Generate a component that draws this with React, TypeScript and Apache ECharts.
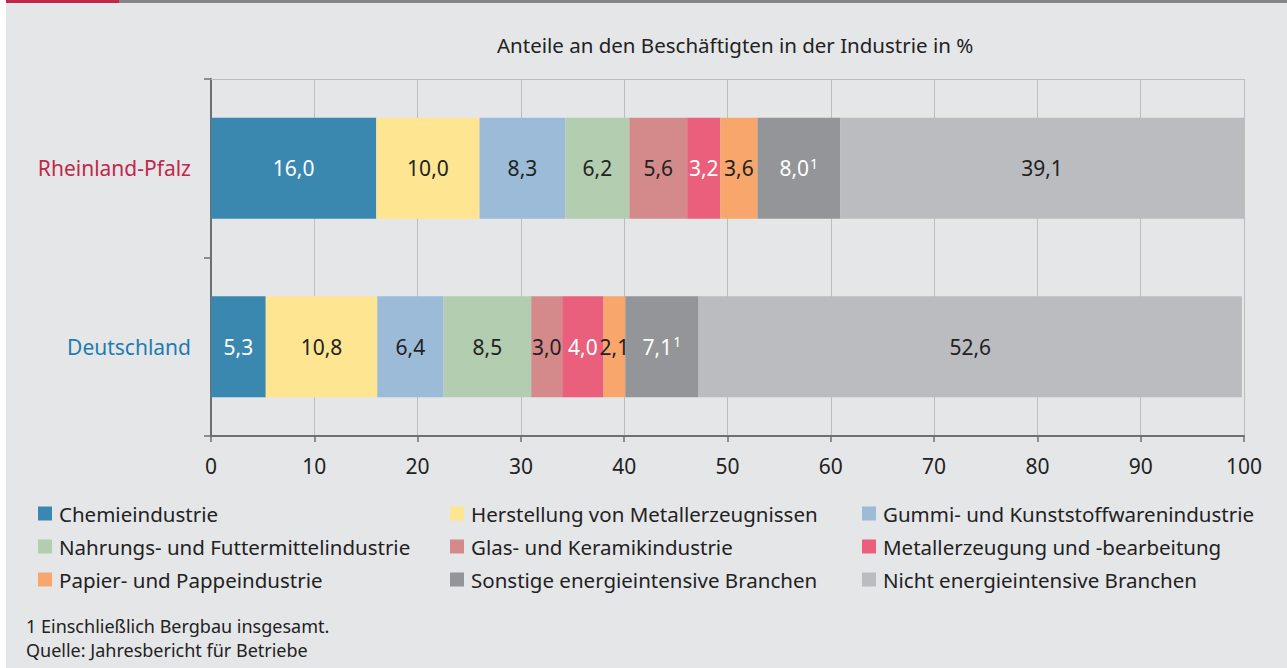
import React, { useEffect, useRef } from "react";
import * as echarts from "echarts";

const categories = ["Rheinland-Pfalz", "Deutschland"];
const seriesNames = [
  "Chemieindustrie",
  "Herstellung von Metallerzeugnissen",
  "Gummi- und Kunststoffwarenindustrie",
  "Nahrungs- und Futtermittelindustrie",
  "Glas- und Keramikindustrie",
  "Metallerzeugung und -bearbeitung",
  "Papier- und Pappeindustrie",
  "Sonstige energieintensive Branchen",
  "Nicht energieintensive Branchen",
];
const rlpValues = [16.0, 10.0, 8.3, 6.2, 5.6, 3.2, 3.6, 8.0, 39.1];
const deValues = [5.3, 10.8, 6.4, 8.5, 3.0, 4.0, 2.1, 7.1, 52.6];
const colors = ["#3a88b0", "#fee592", "#9bbbd8", "#b3cdb0", "#d48a8b", "#ea5f7b", "#f8a66c", "#939598", "#bbbcc0"];
const labelColors = ["#ffffff", "#222", "#222", "#222", "#222", "#ffffff", "#222", "#ffffff", "#222"];
const footnoteIndex = 7;
const xTicks = [0, 10, 20, 30, 40, 50, 60, 70, 80, 90, 100];

const FONT = "'Noto Sans', 'Open Sans', sans-serif";

export default function App() {
  const ref = useRef<HTMLDivElement>(null);
  useEffect(() => {
    document.body.style.margin = "0";
    const chart = echarts.init(ref.current!, undefined, { renderer: "svg" });
    const series = seriesNames.map((name, i) => ({
      name,
      type: "bar",
      stack: "total",
      barWidth: 101,
      itemStyle: { color: colors[i] },
      label: {
        show: true,
        position: "inside",
        fontFamily: FONT,
        fontSize: 21,
        color: labelColors[i],
        formatter: (p: any) => {
          const s = p.value.toFixed(1).replace(".", ",");
          return i === footnoteIndex ? s + "{sup|1}" : s;
        },
        rich: {
          sup: { fontSize: 14, verticalAlign: "top", color: labelColors[i], fontFamily: FONT, padding: [0, 0, 10, 1] },
        },
      },
      data: [rlpValues[i], deValues[i]],
    }));
    const legendCols = [0, 1, 2].map((c) => ({
      orient: "vertical",
      left: [38, 450, 862][c],
      top: 503,
      padding: 0,
      icon: "rect",
      itemWidth: 14,
      itemHeight: 14,
      itemGap: 12,
      textStyle: { fontFamily: FONT, fontSize: 20.5, color: "#222", padding: [0, 0, 0, 2] },
      data: [seriesNames[c], seriesNames[c + 3], seriesNames[c + 6]],
    }));
    chart.setOption({
      animation: false,
      backgroundColor: "#ffffff",
      title: {
        text: "Anteile an den Beschäftigten in der Industrie in %",
        left: 492,
        top: 29,
        textStyle: { fontFamily: FONT, fontSize: 20.5, fontWeight: "normal", color: "#222" },
      },
      legend: legendCols,
      grid: { left: 211, right: 43, top: 79, bottom: 232 },
      xAxis: [
        {
          type: "value",
          min: 0,
          max: 100,
          interval: 10,
          axisLine: { show: true, lineStyle: { color: "#6f6f6f", width: 2 } },
          axisTick: { show: true, length: 6, lineStyle: { color: "#6f6f6f", width: 1.5 } },
          axisLabel: {
            fontFamily: FONT,
            fontSize: 21,
            color: "#222",
            margin: 19,
            formatter: (v: number) => (xTicks.includes(v) ? String(v) : ""),
          },
          splitLine: { show: true, lineStyle: { color: "#bdbdbd", width: 1 } },
        },
        {
          type: "value",
          position: "top",
          min: 0,
          max: 100,
          axisLine: { show: true, lineStyle: { color: "#bdbdbd", width: 1 } },
          axisTick: { show: false },
          axisLabel: { show: false },
          splitLine: { show: false },
        },
      ],
      yAxis: {
        type: "category",
        inverse: true,
        data: categories,
        axisLine: { show: true, lineStyle: { color: "#6f6f6f", width: 2 } },
        axisTick: { show: true, length: 7, lineStyle: { color: "#6f6f6f", width: 1.5 } },
        axisLabel: {
          fontFamily: FONT,
          fontSize: 21,
          margin: 20,
          color: (v: string) => (v === "Rheinland-Pfalz" ? "#c0284a" : "#1f7bb0"),
        },
      },
      series,
      graphic: [
        { type: "rect", z: -10, shape: { x: 6, y: 0, width: 1281, height: 668 }, style: { fill: "#e5e6e8" } },
        { type: "rect", shape: { x: 6, y: 0, width: 113, height: 3 }, style: { fill: "#c1264c" } },
        { type: "rect", shape: { x: 119, y: 0, width: 1168, height: 3 }, style: { fill: "#858585" } },
        {
          type: "text",
          left: 26,
          top: 617,
          style: { text: "1 Einschließlich Bergbau insgesamt.", fontFamily: FONT, fontSize: 18, fill: "#222" },
        },
        {
          type: "text",
          left: 26,
          top: 641,
          style: { text: "Quelle: Jahresbericht für Betriebe", fontFamily: FONT, fontSize: 18, fill: "#222" },
        },
      ],
    });
    return () => chart.dispose();
  }, []);
  return <div ref={ref} style={{ width: 1287, height: 668 }} />;
}
